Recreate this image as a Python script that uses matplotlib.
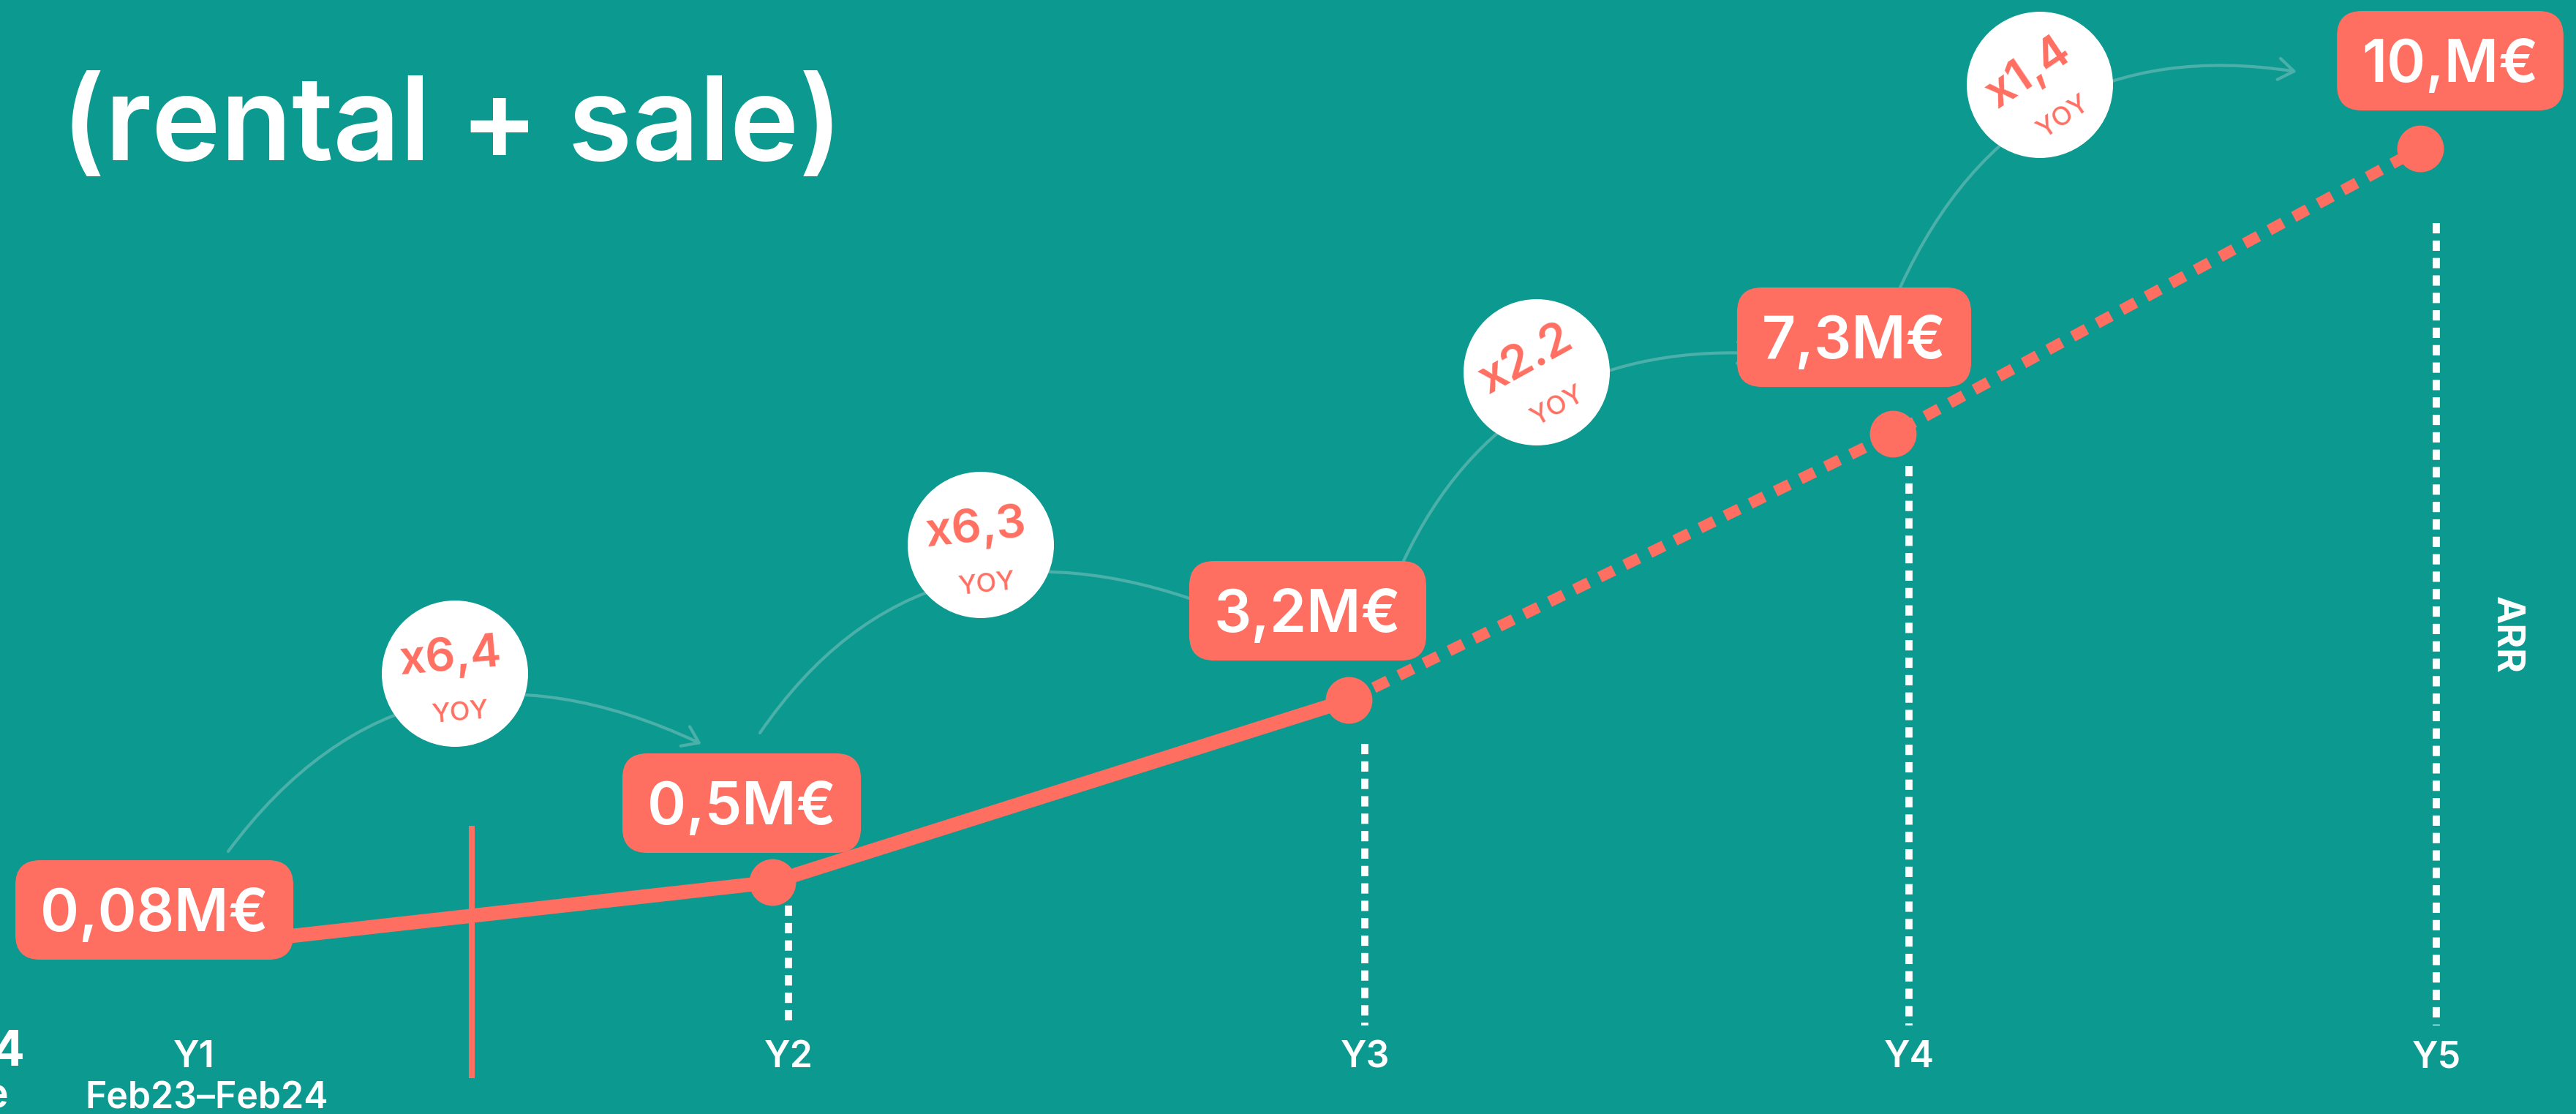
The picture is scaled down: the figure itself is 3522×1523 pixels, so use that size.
import numpy as np
import matplotlib.pyplot as plt
from matplotlib.patches import Circle, FancyBboxPatch, FancyArrowPatch
from matplotlib.path import Path
from matplotlib.transforms import ScaledTranslation, blended_transform_factory

# data
years = ['Y1', 'Y2', 'Y3', 'Y4', 'Y5']
arr_meur = [0.08, 0.5, 3.2, 7.3, 10.0]
arr_labels = ['0,08M€', '0,5M€', '3,2M€', '7,3M€', '10,M€']
growth = ['x6,4', 'x6,3', 'x2.2', 'x1,4']
first_period = 'Feb23–Feb24'

# colours / fonts
TEAL = '#0B9990'
CORAL = '#FF6F61'
ARC = '#4BB0A9'
WHITE = '#FFFFFF'
FONT = ['Inter', 'DejaVu Sans']
plt.rcParams['font.family'] = FONT

W, H = 3522, 1523

# slide layout - the axis is hand drawn, so the scales are pinned at each year / value
x_stops = [265, 1078, 1866, 2610, 3331]
y_stops = [226, 317, 566, 930, 1320]   # px from the bottom edge


def make_scale(stops, pos):
    stops = np.asarray(stops, float)
    pos = np.asarray(pos, float)
    s0 = (pos[1] - pos[0]) / (stops[1] - stops[0])
    s1 = (pos[-1] - pos[-2]) / (stops[-1] - stops[-2])
    xs = np.r_[stops[0] - 1e3, stops, stops[-1] + 1e3]
    ps = np.r_[pos[0] - 1e3 * s0, pos, pos[-1] + 1e3 * s1]
    return (lambda v: np.interp(v, xs, ps)), (lambda p: np.interp(p, ps, xs))


fig = plt.figure(figsize=(W / 100, H / 100), dpi=100, facecolor=TEAL)

# data axes
dax = fig.add_axes([0, 0, 1, 1], zorder=1)
dax.set_axis_off()
fx, ix = make_scale(range(len(years)), x_stops)
fy, iy = make_scale(arr_meur, y_stops)
dax.set_xscale('function', functions=(fx, ix))
dax.set_yscale('function', functions=(fy, iy))

xi = np.arange(len(years))
pts = dax.transData + ScaledTranslation(-0.22, 0, fig.dpi_scale_trans)
dax.plot(xi[:3], arr_meur[:3], color=CORAL, lw=14, solid_joinstyle='round',
         solid_capstyle='butt', transform=pts, zorder=2)
dax.plot(xi[2:], arr_meur[2:], color=CORAL, lw=11, linestyle=(0, (1.4, 1.1)),
         dash_capstyle='butt', transform=pts, zorder=2)
dax.plot(xi[1:], arr_meur[1:], 'o', ms=46, color=CORAL, mec='none',
         transform=pts, zorder=3)

# overlay in pixels
pax = fig.add_axes([0, 0, 1, 1], zorder=2)
pax.set_axis_off()
pax.patch.set_visible(False)
bx = blended_transform_factory(dax.transData, pax.transData)

# white dotted year guides
v_tops = [1238, 1017, 637, 305]
for i, top in zip(xi[1:], v_tops):
    pax.plot([i, i], [top, 1402], color=WHITE, lw=7, linestyle=(0, (1.45, 1.0)),
             dash_capstyle='butt', transform=bx)

# year labels
for i, y in zip(xi, years):
    pax.text(i, 1459, y, transform=bx, ha='center', va='baseline', fontsize=36,
             color=WHITE, weight='semibold')
pax.text(283, 1515, first_period, ha='center', va='baseline', fontsize=36,
         color=WHITE, weight='semibold')

# cut-off bits at the left edge
pax.text(34, 1458, '2024', ha='right', va='baseline', fontsize=48, color=WHITE, weight='bold')
pax.text(12, 1513, 'sale', ha='right', va='baseline', fontsize=40, color=WHITE, weight='semibold')

# today marker
pax.plot([645, 645], [1129, 1474], color=CORAL, lw=5.8, solid_capstyle='butt')

# title
pax.text(84, 219, '(rental + sale)', ha='left', va='baseline', fontsize=115,
         color=WHITE, weight='semibold')

# ARR axis name
pax.text(3426, 868, 'ARR', rotation=270, ha='center', va='center', fontsize=37,
         color=WHITE, weight='bold')

# growth arcs
arcs = [
    [(312, 1164), (560, 830), (959, 1017)],
    [(1039, 1002), (1260, 680), (1660, 830)],
    [(1919, 767), (2060, 470), (2400, 483)],
    [(2598, 393), (2760, 40), (3140, 98)],
]
for a in arcs:
    p = Path(a, [Path.MOVETO, Path.CURVE3, Path.CURVE3])
    pax.add_patch(FancyArrowPatch(path=p, arrowstyle='->,head_length=0.5,head_width=0.35',
                                  mutation_scale=30, color=ARC, lw=3, zorder=2))

# growth bubbles
bubbles = [((622, 921), 5), ((1341, 745), 6), ((2101, 509), 29), ((2789, 116), 34)]
for ((cx, cy), rot), g in zip(bubbles, growth):
    pax.add_patch(Circle((cx, cy), 100, fc=WHITE, ec='none', zorder=3))
    t = np.deg2rad(rot)

    def at(a, b):
        return cx + a * np.cos(t) + b * np.sin(t), cy - a * np.sin(t) + b * np.cos(t)

    mx, my = at(-4, -22)
    pax.text(mx, my, g, rotation=rot, rotation_mode='anchor', ha='center', va='center',
             fontsize=46, color=CORAL, weight='semibold', zorder=4)
    yx, yy = at(2, 55)
    pax.text(yx, yy, 'YOY', rotation=rot, rotation_mode='anchor', ha='center', va='center',
             fontsize=26, color=CORAL, weight='medium', zorder=4)

# value boxes
box_c = [(211, 1244), (1014, 1098), (1788, 835), (2535, 461), (3350, 83)]
renderer = fig.canvas.get_renderer()
for (cx, cy), lab in zip(box_c, arr_labels):
    txt = pax.text(cx, cy + 29, lab, ha='center', va='baseline', fontsize=58,
                   color=WHITE, weight='semibold', zorder=6)
    w = txt.get_window_extent(renderer=renderer).width + 68
    h = 136
    pax.add_patch(FancyBboxPatch((cx - w / 2, cy - h / 2), w, h,
                                 boxstyle='round,pad=0,rounding_size=34',
                                 fc=CORAL, ec='none', zorder=5))

dax.set_xlim(ix(0), ix(W))
dax.set_ylim(iy(0), iy(H))
pax.set_xlim(0, W)
pax.set_ylim(H, 0)

fig.savefig('out.png', dpi=100, facecolor=TEAL)
